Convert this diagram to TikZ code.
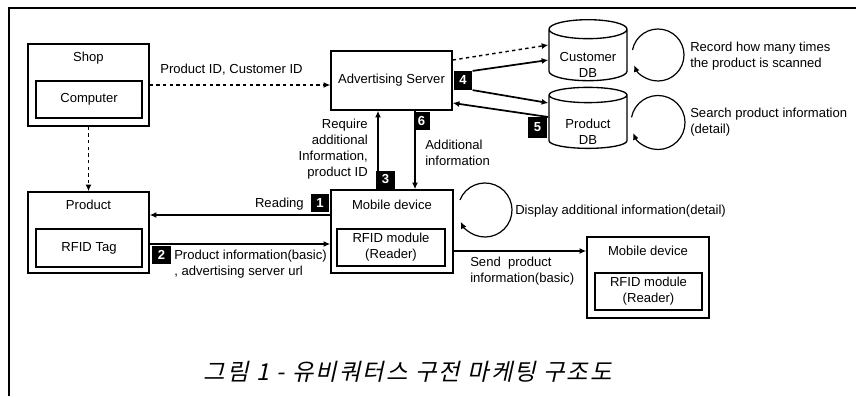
\documentclass[tikz,border=0pt]{standalone}
\usepackage{fontspec}
\setmainfont{Liberation Sans}
\newfontfamily\krfont[FakeSlant=0.22,LetterSpace=9]{Noto Sans CJK KR}
\usetikzlibrary{positioning,arrows.meta,shapes.geometric,calc}
\tikzset{
  outer/.style={draw, line width=1.1pt, minimum width=90.75pt, minimum height=61.5pt, inner sep=0pt},
  inner/.style={draw, line width=1pt, minimum width=79.5pt, minimum height=27.75pt,
                align=center, font=\fs, inner sep=0pt},
  ttl/.style={font=\fs, inner sep=0pt},
  db/.style={draw, line width=1pt, cylinder, shape border rotate=90, aspect=0.32,
             minimum width=58.5pt, minimum height=45.75pt, font=\fs, inner sep=1pt},
  badge/.style={fill=black, text=white, font=\fs\bfseries, minimum width=14pt,
                minimum height=14pt, inner sep=0pt},
  lbl/.style={font=\fs, inner sep=0pt},
  arr/.style={-{Latex[length=5pt,width=4.5pt]}, line width=1.3pt},
  darr/.style={-{Latex[length=5pt,width=4.5pt]}, line width=1.1pt, dash pattern=on 2.5pt off 2.5pt},
  loopy/.style={-{Latex[length=5pt,width=4.5pt]}, line width=0.9pt},
}
\newcommand{\fs}{\fontsize{9.8}{12}\selectfont}
\newcommand{\dbtext}[1]{\raisebox{-10pt}[0pt][0pt]{\begin{tabular}{@{}c@{}}#1\end{tabular}}}

\begin{document}
\begin{tikzpicture}[x=0.75pt, y=-0.75pt]
  \useasboundingbox (0,0) rectangle (856,396);
  % frame
  \draw[line width=1.1pt] (9,396) -- (9,8) -- (856,8);

  % shop / product on the left
  \node[outer] (shop) at (88.5,85) {};
  \node[ttl] at (88.5,58) {Shop};
  \node[inner] (comp) at (89,99.5) {Computer};
  \node[outer, minimum height=60.75pt] (prod) at (88.5,232.5) {};
  \node[ttl] at (88.5,205) {Product};
  \node[inner, minimum height=28.5pt] (tag) at (89,248) {RFID Tag};

  % server and mobile devices
  \node[outer, minimum height=44.25pt, font=\fs] (adv) at (391.5,80.5) {Advertising Server};
  \node[outer, minimum width=91.5pt, minimum height=62.25pt] (mob) at (392,231.5) {};
  \node[ttl] at (392,205) {Mobile device};
  \node[inner, minimum width=81pt] (mobrf) at (391,247.5) {RFID module\\(Reader)};
  \node[outer, minimum width=91.5pt, minimum height=60.75pt] (mob2) at (648,277.5) {};
  \node[ttl] at (648,251) {Mobile device};
  \node[inner, minimum width=80.25pt] (mob2rf) at (648.5,291.5) {RFID module\\(Reader)};

  % databases
  \node[db] (cdb) at (588,56.5) {\dbtext{Customer\\DB}};
  \node[db] (pdb) at (588,123) {\dbtext{Product\\DB}};

  % step numbers
  \node[badge] (n1) at (320,203) {1};
  \node[badge] (n2) at (161.5,255) {2};
  \node[badge, minimum height=13.5pt] (n3) at (385.5,179.5) {3};
  \node[badge, minimum width=12pt, minimum height=13.5pt] (n6) at (421.5,121) {6};
  \node[badge] (n4) at (463,80.5) {4};
  \node[badge, minimum height=16pt] (n5) at (537.5,127.5) {5};

  % connectors
  \draw[darr] (shop.east) -- (shop.east -| adv.west);
  \node[lbl] at (231.5,70) {Product ID, Customer ID};
  \draw[darr] (shop.south) -- (prod.north);

  \draw[arr] ($(mob.west)+(0,-16.5)$) coordinate (r1) -- (r1 -| prod.east);
  \node[lbl, anchor=east] at (304,204) {Reading};
  \draw[arr] ($(prod.east)+(0,11.5)$) coordinate (r2) -- (r2 -| mob.west);
  \node[lbl, align=left, anchor=west] at (174,264) {Product information(basic)\\, advertising server url};

  \draw[arr] ($(mob.north)+(-14,0)$) coordinate (r3) -- (r3 |- adv.south);
  \node[lbl, align=right, anchor=east] at (368,149) {Require\\additional\\Information,\\product ID};
  \draw[arr] ($(adv.south)+(23.5,0)$) coordinate (r6) -- (r6 |- mob.north);
  \node[lbl, align=left, anchor=west] at (425,152.5) {Additional\\information};

  \draw[darr] ($(adv.east)+(0,-20.5)$) -- ($(cdb.west)+(0,-11.5)$);
  \draw[arr] (n4.north east) -- ($(cdb.west)+(0,3.5)$);
  \draw[arr] (n4.south east) -- ($(pdb.west)+(0,-20)$);
  \draw[arr] ($(pdb.west)+(0,-6)$) -- ($(adv.east)+(0,22.5)$);

  \draw[arr] ($(mob.east)+(0,19.5)$) coordinate (r7) -- (r7 -| mob2.west);
  \node[lbl, align=left, anchor=west] at (470,271) {Send\ \ product\\information(basic)};

  % self loops
  \coordinate (cl) at (658,55);
  \draw[loopy] (cl) ++(191:26) arc[start angle=191, end angle=517, radius=26];
  \node[lbl, align=left, anchor=west] at (690,56.5) {Record how many times\\the product is scanned};
  \coordinate (pl) at (658,122.5);
  \draw[loopy] (pl) ++(191:27) arc[start angle=191, end angle=517, radius=27];
  \node[lbl, align=left, anchor=west] at (690,122.5) {Search product information\\(detail)};
  \coordinate (ml) at (485,210);
  \draw[loopy] (ml) ++(202:27) arc[start angle=202, end angle=514, radius=27];
  \node[lbl, anchor=west] at (515,211) {Display additional information(detail)};

  % caption
  \node[font=\krfont\fontsize{17.5}{20}\selectfont, inner sep=0pt] (cap) at (408,372)
    {그림 1 - 유비쿼터스 구전 마케팅 구조도};
\end{tikzpicture}
\end{document}
